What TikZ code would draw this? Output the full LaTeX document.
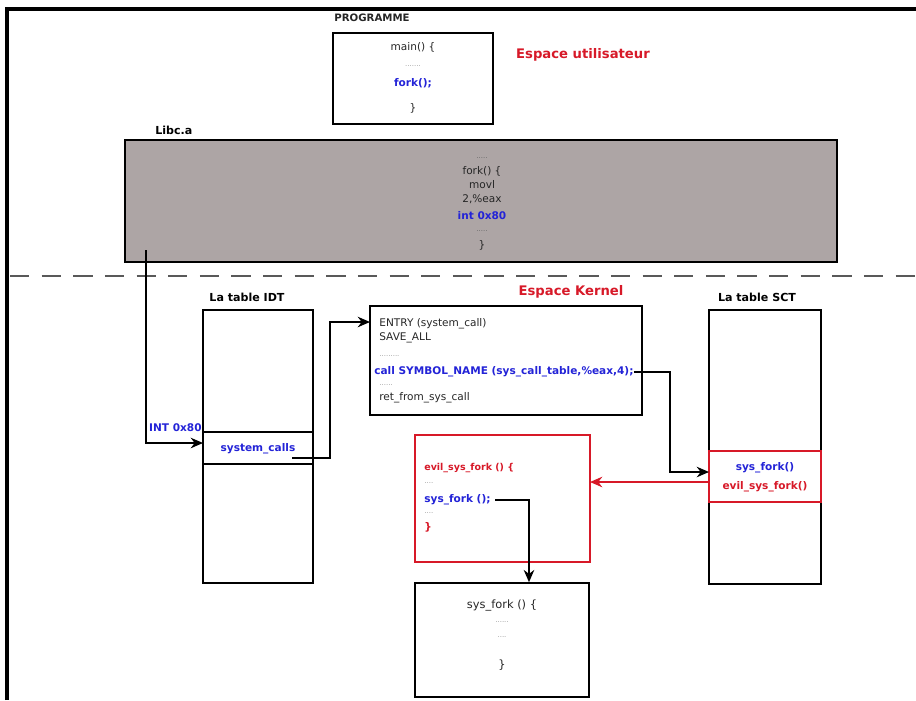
\documentclass[tikz,border=0pt]{standalone}
\usepackage{fontspec}
\setmainfont{DejaVu Sans}
\usetikzlibrary{arrows.meta,calc}
\definecolor{codeblue}{RGB}{35,35,215}
\definecolor{codered}{RGB}{215,25,40}
\definecolor{libcgray}{RGB}{173,165,165}
\begin{document}
\begin{tikzpicture}[
    x=0.02cm, y=-0.02cm,
    every node/.style={inner sep=0pt, font=\fontsize{6}{7}\selectfont, text=black!85},
    box/.style={draw, line width=0.9pt, inner sep=0pt},
    redbox/.style={draw=codered, line width=0.9pt, inner sep=0pt},
    title/.style={font=\fontsize{7.5}{9}\selectfont\bfseries, text=codered},
    lbl/.style={font=\fontsize{6.3}{7}\selectfont\bfseries, text=black},
    hot/.style={font=\fontsize{6}{7}\selectfont\bfseries, text=codeblue},
    evil/.style={font=\fontsize{6}{7}\selectfont\bfseries, text=codered},
    sep/.style={font=\fontsize{4}{5}\selectfont, text=gray!80},
    link/.style={-{Stealth[length=7pt,width=6pt]}, line width=0.9pt},
    redlink/.style={link, draw=codered}
]
    \useasboundingbox (0,0) rectangle (916,700);
    % frame
    \draw[line width=1.8pt] (7,700) -- (7,9) -- (916,9);
    % user space
    \node[font=\fontsize{5.8}{7}\selectfont\bfseries] (progt) at (372,18) {PROGRAMME};
    \node[box, minimum width=3.2cm, minimum height=1.82cm] (prog) at (413,78.5) {};
    \node (pmain) at (413,47) {main() \{};
    \node[sep] (psep) at (413,66) {.......};
    \node[hot] (pfork) at (413,83) {fork();};
    \node (pend) at (413,108) {\}};
    \node[title] (user) at (583,55) {Espace utilisateur};
    % libc
    \node[lbl, anchor=west] (libct) at (155,130) {Libc.a};
    \node[box, fill=libcgray, minimum width=14.24cm, minimum height=2.44cm] (libc) at (481,201) {};
    \node[sep, text=black!60] (lsep1) at (482,158) {.....};
    \node (lfork) at (482,171) {fork() \{};
    \node (lmovl) at (482,185) {movl};
    \node (leax) at (482,199) {2,\%eax};
    \node[hot] (lint) at (482,216) {int 0x80};
    \node[sep, text=black!60] (lsep2) at (482,231) {.....};
    \node (lend) at (482,245) {\}};
    % kernel space
    \draw[dashed, dash pattern=on 11pt off 7pt, line width=1pt, gray!70!black] (10,276) -- (916,276);
    \node[title] (kern) at (571,292) {Espace Kernel};
    % IDT table
    \node[lbl] (idtt) at (247,297) {La table IDT};
    \node[box, minimum width=2.2cm, minimum height=5.46cm] (idt) at (258,446.5) {};
    \node[box, minimum width=2.2cm, minimum height=0.64cm] (sysc) at (258,448) {};
    \node[hot] (sysct) at (258,449) {system\_calls};
    \node[hot, anchor=east] (intl) at (202,428) {INT 0x80};
    % system_call entry
    \node[box, minimum width=5.44cm, minimum height=2.18cm] (entry) at (506,360.5) {};
    \node[anchor=west] (e1) at (379,324) {ENTRY (system\_call)};
    \node[anchor=west] (e2) at (379,338) {SAVE\_ALL};
    \node[sep, anchor=west] (e3) at (379,356) {.........};
    \node[hot, anchor=west] (ecall) at (374,372) {call SYMBOL\_NAME (sys\_call\_table,\%eax,4);};
    \node[sep, anchor=west] (e4) at (379,385) {......};
    \node[anchor=west] (e5) at (379,398) {ret\_from\_sys\_call};
    % SCT table
    \node[lbl] (sctt) at (757,297) {La table SCT};
    \node[box, minimum width=2.24cm, minimum height=5.48cm] (sct) at (765,447) {};
    \node[redbox, minimum width=2.24cm, minimum height=1.02cm] (sctc) at (765,476.5) {};
    \node[hot] (sct1) at (765,468) {sys\_fork()};
    \node[evil] (sct2) at (765,487) {evil\_sys\_fork()};
    % evil handler
    \node[redbox, minimum width=3.5cm, minimum height=2.54cm] (evilb) at (502.5,498.5) {};
    \node[evil, anchor=west, font=\fontsize{5.4}{7}\selectfont\bfseries] (v1) at (424,468) {evil\_sys\_fork () \{};
    \node[sep, anchor=west] (v2) at (424,483) {....};
    \node[hot, anchor=west] (v3) at (424,500) {sys\_fork ();};
    \node[sep, anchor=west] (v4) at (424,513) {....};
    \node[evil, anchor=west] (v5) at (424,527) {\}};
    % real sys_fork
    \node[box, minimum width=3.48cm, minimum height=2.28cm] (sfork) at (502,640) {};
    \node[font=\fontsize{6.5}{7}\selectfont] (s1) at (502,605) {sys\_fork () \{};
    \node[sep] (s2) at (502,622) {......};
    \node[sep] (s3) at (502,637) {....};
    \node[font=\fontsize{6.5}{7}\selectfont] (s4) at (502,665) {\}};
    % connectors
    \coordinate (libcout) at (146,250);
    \coordinate (idtin) at (203,443);
    \coordinate (syscout) at (292,458);
    \coordinate (entryin) at (370,322);
    \coordinate (sctin) at (709,472);
    \coordinate (evilin) at (590,482);
    \coordinate (sfout) at (495,500);
    \draw[link] (libcout) |- (idtin);
    \draw[link] (syscout) -- (330,458) |- (entryin);
    \draw[link] (ecall.east) -- (670,372) |- (sctin);
    \draw[redlink] (sctc.west |- evilin) -- (evilin);
    \draw[link] (sfout) -| ($(sfork.north)+(27,0)$);
\end{tikzpicture}
\end{document}
